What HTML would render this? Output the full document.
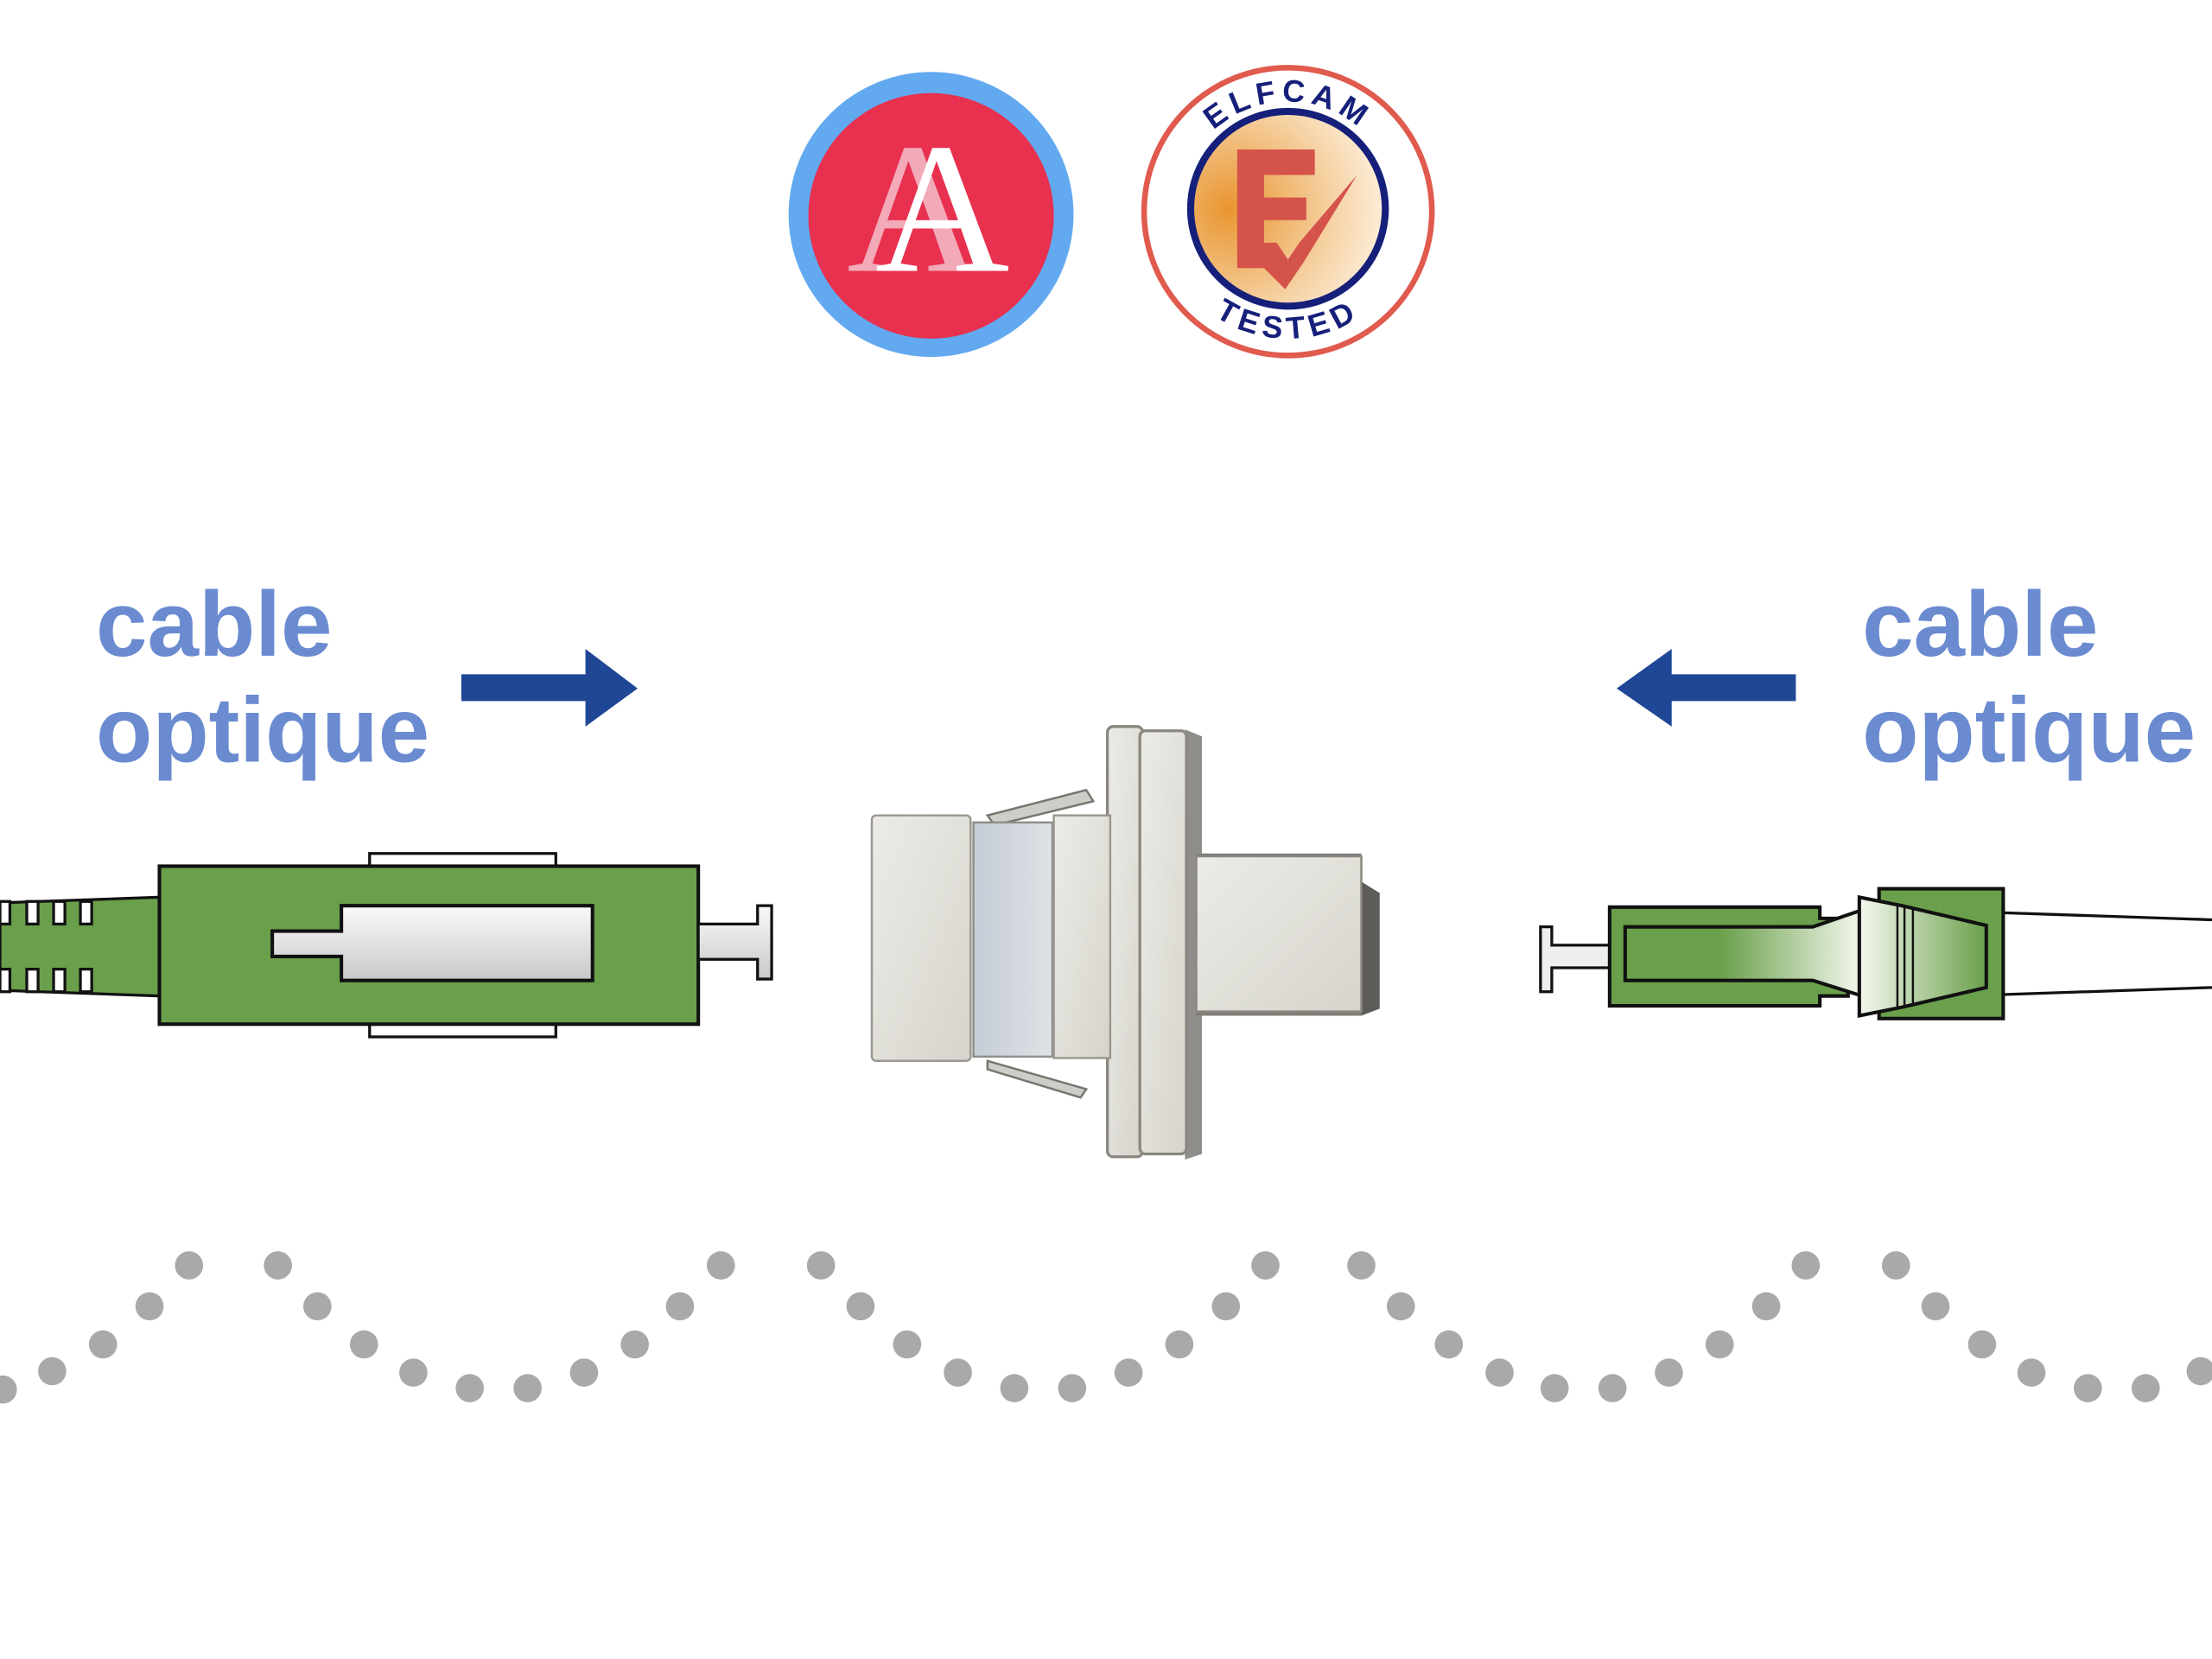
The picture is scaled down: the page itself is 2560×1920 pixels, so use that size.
<!DOCTYPE html>
<html><head><meta charset="utf-8"><style>html,body{margin:0;padding:0;background:#fff}svg{display:block}</style></head>
<body>
<svg width="2560" height="1920" viewBox="0 0 1568 1176" xmlns="http://www.w3.org/2000/svg">
<defs>
<linearGradient id="ferr" x1="0" y1="0" x2="0" y2="1"><stop offset="0" stop-color="#fafafa"/><stop offset="1" stop-color="#c9c9c9"/></linearGradient>
<linearGradient id="fade" x1="0" y1="0" x2="1" y2="0"><stop offset="0" stop-color="#6a9f4b"/><stop offset="0.4" stop-color="#6a9f4b"/><stop offset="1" stop-color="#f4f8ee"/></linearGradient>
<linearGradient id="cone" x1="0" y1="0" x2="1" y2="0"><stop offset="0" stop-color="#f4f8ee"/><stop offset="1" stop-color="#6a9f4b"/></linearGradient>
<radialGradient id="orange" cx="0.2" cy="0.5" r="0.9"><stop offset="0" stop-color="#e9952f"/><stop offset="0.6" stop-color="#f6d3a6"/><stop offset="1" stop-color="#fff8ee"/></radialGradient>
<linearGradient id="metal" x1="0" y1="0" x2="1" y2="1"><stop offset="0" stop-color="#ecebe6"/><stop offset="1" stop-color="#d6d4cc"/></linearGradient>
<linearGradient id="blue" x1="0" y1="0" x2="1" y2="0"><stop offset="0" stop-color="#c5ccd6"/><stop offset="1" stop-color="#dfe2e6"/></linearGradient>
<path id="arcTop" d="M835,150 A78,78 0 0 1 991,150"/>
<path id="arcBot" d="M821,148 A92,92 0 0 0 1005,148"/>
</defs>

<!-- Logo A -->
<circle cx="660" cy="152" r="101" fill="#62a9f0"/>
<circle cx="660" cy="153" r="87" fill="#e8304f"/>
<text x="648" y="192" font-family="Liberation Serif, serif" font-size="132" fill="#f2a9b8" text-anchor="middle">A</text>
<text x="668" y="192" font-family="Liberation Serif, serif" font-size="132" fill="#fff" text-anchor="middle">A</text>

<!-- Elfcam -->
<circle cx="913" cy="150" r="102" fill="#fff" stroke="#e05a4e" stroke-width="4"/>
<circle cx="913" cy="148" r="69" fill="url(#orange)" stroke="#16207a" stroke-width="5"/>
<path d="M877,106 H932 V124 H896 V140 H926 V156 H896 V172 H905 L913,184 L921,172 L962,124 L924,186 L911,205 L896,190 H877 Z" fill="#d4534a"/>
<text font-family="Liberation Sans, sans-serif" font-size="22" font-weight="bold" fill="#16207a" letter-spacing="4"><textPath href="#arcTop" startOffset="50%" text-anchor="middle">ELFCAM</textPath></text>
<text font-family="Liberation Sans, sans-serif" font-size="22" font-weight="bold" fill="#16207a" letter-spacing="4"><textPath href="#arcBot" startOffset="50%" text-anchor="middle">TESTED</textPath></text>

<!-- Texts -->
<g font-family="Liberation Sans, Arial, sans-serif" font-weight="bold" font-size="65.5" fill="#6a8bd0">
<text x="68" y="465">cable</text><text x="68" y="540">optique</text>
<text x="1320" y="465">cable</text><text x="1320" y="540">optique</text>
</g>

<!-- Arrows -->
<path d="M327,478 H415 V460 L452,488 L415,515 V497 H327 Z" fill="#1f4795"/>
<path d="M1273,478 H1185 V460 L1146,488 L1185,515 V497 H1273 Z" fill="#1f4795"/>

<!-- Left connector -->
<g stroke="#111" stroke-width="2.5">
<path d="M0,640 L113,636 V706 L0,702 Z" fill="#6a9f4b" stroke-width="2"/>
<g fill="#fff" stroke-width="2"><rect x="0" y="639" width="7" height="16"/><rect x="19" y="639" width="8" height="16"/><rect x="38" y="639" width="8" height="16"/><rect x="57" y="639" width="8" height="16"/>
<rect x="0" y="687" width="7" height="16"/><rect x="19" y="687" width="8" height="16"/><rect x="38" y="687" width="8" height="16"/><rect x="57" y="687" width="8" height="16"/></g>
<rect x="262" y="605" width="132" height="10" fill="#fff" stroke-width="2"/>
<rect x="262" y="726" width="132" height="9" fill="#fff" stroke-width="2"/>
<rect x="113" y="614" width="382" height="112" fill="#6a9f4b"/>
<path d="M193,660 H242 V642 H420 V695 H242 V678 H193 Z" fill="url(#ferr)"/>
<path d="M495,655 H537 V642 H547 V694 H537 V680 H495 Z" fill="url(#ferr)" stroke-width="2"/>
</g>

<!-- Right connector -->
<g stroke="#111" stroke-width="2.5">
<path d="M1420,647 L1568,652 M1420,705 L1568,700" fill="none" stroke-width="2"/>
<path d="M1092,657 H1100 V670 H1142 V686 H1100 V703 H1092 Z" fill="#eee" stroke-width="2"/>
<path d="M1141,643 H1290 V651 H1310 V706 H1290 V713 H1141 Z" fill="#6a9f4b"/>
<path d="M1152,657 H1285 L1320,645 V706 L1285,695 H1152 Z" fill="url(#fade)"/>
<rect x="1332" y="630" width="88" height="92" fill="#6a9f4b"/>
<path d="M1318,636 L1348,642 L1408,656 V700 L1348,714 L1318,720 Z" fill="url(#cone)"/>
<path d="M1345,642 V714 M1350,642 V714 M1356,643 V713" fill="none" stroke-width="1.5"/>
</g>

<!-- Adapter -->
<g>
<path d="M840,517 L852,522 V818 L840,822 Z" fill="#8f8e8a"/>
<rect x="848" y="605" width="117" height="115" fill="#7f7d78"/>
<path d="M965,625 L978,633 V715 L965,720 Z" fill="#5e5c58"/>
<rect x="848" y="607" width="117" height="110" fill="url(#metal)" stroke="#8a877f" stroke-width="1.5"/>
<rect x="785" y="515" width="25" height="305" rx="4" fill="url(#metal)" stroke="#8a877f" stroke-width="2"/>
<rect x="808" y="518" width="33" height="300" rx="4" fill="url(#metal)" stroke="#8a877f" stroke-width="2"/>
<path d="M700,578 L770,560 L775,568 L705,585 Z" fill="#cfcdc7" stroke="#77756f" stroke-width="1.5"/>
<path d="M700,752 L770,772 L766,778 L700,758 Z" fill="#cfcdc7" stroke="#77756f" stroke-width="1.5"/>
<rect x="618" y="578" width="70" height="174" rx="3" fill="url(#metal)" stroke="#9b988f" stroke-width="1.5"/>
<rect x="690" y="583" width="56" height="166" fill="url(#blue)" stroke="#8f8e8a" stroke-width="1.5"/>
<rect x="747" y="578" width="40" height="172" fill="url(#metal)" stroke="#9b988f" stroke-width="1.5"/>
</g>

<!-- Dots -->
<g fill="#a9a9a9">
<circle cx="2" cy="985" r="10"/><circle cx="37" cy="972" r="10"/><circle cx="73" cy="953" r="10"/><circle cx="106" cy="926" r="10"/><circle cx="134" cy="897" r="10"/><circle cx="197" cy="897" r="10"/><circle cx="225" cy="926" r="10"/><circle cx="258" cy="953" r="10"/><circle cx="293" cy="973" r="10"/><circle cx="333" cy="984" r="10"/><circle cx="374" cy="984" r="10"/><circle cx="414" cy="973" r="10"/><circle cx="450" cy="953" r="10"/><circle cx="482" cy="926" r="10"/><circle cx="511" cy="897" r="10"/><circle cx="582" cy="897" r="10"/><circle cx="610" cy="926" r="10"/><circle cx="643" cy="953" r="10"/><circle cx="679" cy="973" r="10"/><circle cx="719" cy="984" r="10"/><circle cx="760" cy="984" r="10"/><circle cx="800" cy="973" r="10"/><circle cx="836" cy="953" r="10"/><circle cx="869" cy="926" r="10"/><circle cx="897" cy="897" r="10"/><circle cx="965" cy="897" r="10"/><circle cx="993" cy="926" r="10"/><circle cx="1027" cy="953" r="10"/><circle cx="1063" cy="973" r="10"/><circle cx="1102" cy="984" r="10"/><circle cx="1143" cy="984" r="10"/><circle cx="1183" cy="973" r="10"/><circle cx="1219" cy="953" r="10"/><circle cx="1252" cy="926" r="10"/><circle cx="1280" cy="897" r="10"/><circle cx="1344" cy="897" r="10"/><circle cx="1372" cy="926" r="10"/><circle cx="1405" cy="953" r="10"/><circle cx="1440" cy="973" r="10"/><circle cx="1480" cy="984" r="10"/><circle cx="1521" cy="984" r="10"/><circle cx="1560" cy="972" r="10"/>
</g>
</svg>
</body></html>
